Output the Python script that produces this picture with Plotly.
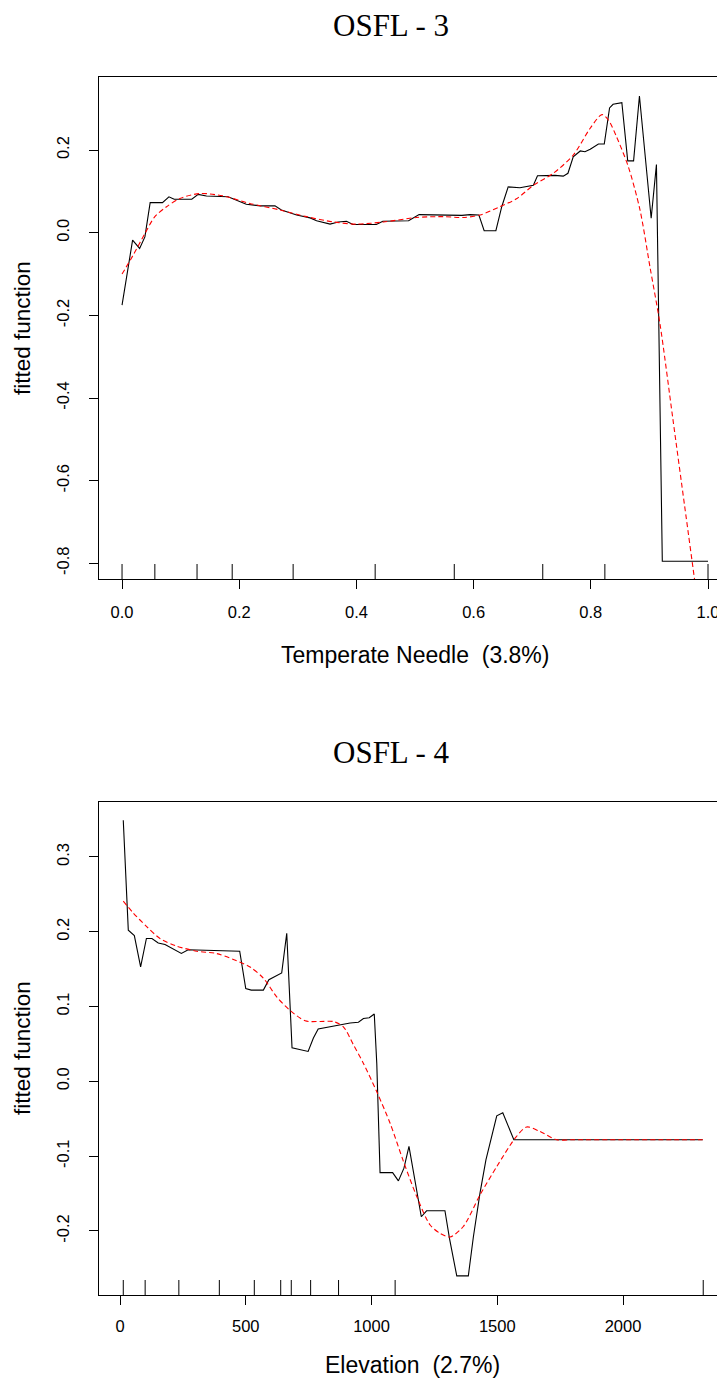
import plotly.graph_objects as go

# The page body has an 8px margin, so the figure is sized to fit inside it
OFF = 8
W, H = 725 - OFF, 1382 - OFF

# ---------------- data: OSFL - 3 (Temperate Needle) ----------------
tn_x = [0.000, 0.018, 0.030, 0.039, 0.048, 0.069, 0.080, 0.089, 0.119, 0.130,
        0.144, 0.181, 0.212, 0.236, 0.261, 0.272, 0.298, 0.321, 0.332, 0.355,
        0.369, 0.383, 0.394, 0.434, 0.445, 0.489, 0.507, 0.571, 0.580, 0.594,
        0.609, 0.618, 0.638, 0.648, 0.659, 0.679, 0.688, 0.702, 0.709, 0.739,
        0.753, 0.761, 0.770, 0.782, 0.790, 0.799, 0.813, 0.823, 0.832, 0.838,
        0.853, 0.863, 0.873, 0.883, 0.903, 0.912, 0.922, 1.000]
tn_fit = [-0.175, -0.018, -0.038, -0.010, 0.073, 0.073, 0.087, 0.081, 0.081, 0.093,
          0.089, 0.087, 0.069, 0.065, 0.065, 0.055, 0.043, 0.036, 0.029, 0.021,
          0.026, 0.028, 0.020, 0.020, 0.028, 0.029, 0.044, 0.043, 0.042, 0.044,
          0.043, 0.005, 0.005, 0.063, 0.111, 0.109, 0.111, 0.115, 0.138, 0.139,
          0.137, 0.144, 0.184, 0.198, 0.196, 0.202, 0.215, 0.215, 0.302, 0.311,
          0.315, 0.174, 0.174, 0.331, 0.035, 0.165, -0.795, -0.795]
tn_smooth_x = [0.000, 0.019, 0.039, 0.056, 0.076, 0.099, 0.133, 0.173, 0.218, 0.270,
               0.315, 0.361, 0.400, 0.446, 0.503, 0.548, 0.582, 0.611, 0.645, 0.674,
               0.702, 0.736, 0.770, 0.799, 0.819, 0.830, 0.844, 0.864, 0.884, 0.901,
               0.918, 0.940, 0.960, 0.980, 1.000]
tn_smooth = [-0.100, -0.054, -0.002, 0.039, 0.063, 0.083, 0.095, 0.089, 0.071, 0.055,
             0.039, 0.026, 0.021, 0.026, 0.037, 0.039, 0.037, 0.043, 0.063, 0.083,
             0.115, 0.144, 0.188, 0.253, 0.286, 0.273, 0.232, 0.160, 0.055, -0.083,
             -0.220, -0.450, -0.660, -0.870, -1.080]
tn_rug = [0.0, 0.056, 0.128, 0.188, 0.292, 0.432, 0.567, 0.718, 0.824, 1.0]
tn_xticks = [0.0, 0.2, 0.4, 0.6, 0.8, 1.0]
tn_xlabels = ["0.0", "0.2", "0.4", "0.6", "0.8", "1.0"]
tn_yticks = [-0.8, -0.6, -0.4, -0.2, 0.0, 0.2]
tn_ylabels = ["-0.8", "-0.6", "-0.4", "-0.2", "0.0", "0.2"]

# ---------------- data: OSFL - 4 (Elevation) ----------------
el_x = [13, 24, 33, 57, 82, 105, 127, 152, 179, 244,
        271, 476, 500, 522, 570, 592, 643, 663, 684, 748,
        769, 788, 835, 875, 915, 948, 968, 991, 1011, 1021,
        1034, 1084, 1107, 1129, 1149, 1198, 1219, 1292, 1310, 1339,
        1385, 1405, 1431, 1455, 1498, 1522, 1566, 2317]
el_fit = [0.349, 0.274, 0.202, 0.195, 0.153, 0.191, 0.191, 0.185, 0.183, 0.171,
          0.176, 0.174, 0.124, 0.122, 0.122, 0.136, 0.145, 0.198, 0.045, 0.040,
          0.058, 0.070, 0.073, 0.075, 0.078, 0.079, 0.084, 0.085, 0.090, 0.024,
          -0.122, -0.122, -0.133, -0.116, -0.087, -0.181, -0.173, -0.173, -0.210, -0.260,
          -0.260, -0.208, -0.150, -0.105, -0.046, -0.042, -0.078, -0.078]
el_smooth_x = [13, 53, 106, 159, 224, 305, 383, 451, 517, 570,
               623, 676, 736, 795, 848, 888, 928, 968, 1021, 1074,
               1127, 1180, 1233, 1272, 1312, 1365, 1431, 1498, 1571, 1617,
               1670, 1736, 1800, 2000, 2200, 2317]
el_smooth = [0.241, 0.225, 0.207, 0.191, 0.181, 0.174, 0.171, 0.163, 0.153, 0.138,
             0.113, 0.095, 0.081, 0.080, 0.080, 0.073, 0.049, 0.024, -0.014, -0.056,
             -0.107, -0.154, -0.192, -0.203, -0.208, -0.194, -0.152, -0.114, -0.076, -0.061,
             -0.067, -0.078, -0.078, -0.078, -0.078, -0.078]
el_rug = [13, 100, 234, 395, 534, 639, 681, 758, 869, 1094, 2319]
el_xticks = [0, 500, 1000, 1500, 2000]
el_xlabels = ["0", "500", "1000", "1500", "2000"]
el_yticks = [-0.2, -0.1, 0.0, 0.1, 0.2, 0.3]
el_ylabels = ["-0.2", "-0.1", "0.0", "0.1", "0.2", "0.3"]


# ---------------- layout geometry (window pixels -> paper) ----------------
def px_x(p):
    return (p - OFF) / W


def px_y(p):
    return 1 - (p - OFF) / H


SANS = "Liberation Sans, Arial, sans-serif"
SERIF = "Liberation Serif, Times New Roman, serif"

fig = go.Figure()

fig.add_trace(go.Scatter(x=tn_x, y=tn_fit, mode="lines", xaxis="x", yaxis="y",
                         line=dict(color="black", width=1.1), showlegend=False))
fig.add_trace(go.Scatter(x=tn_smooth_x, y=tn_smooth, mode="lines", xaxis="x", yaxis="y",
                         line=dict(color="#ff0000", width=1.1, dash="5px,3px", shape="spline",
                                   smoothing=0.8),
                         showlegend=False))
fig.add_trace(go.Scatter(x=el_x, y=el_fit, mode="lines", xaxis="x2", yaxis="y2",
                         line=dict(color="black", width=1.1), showlegend=False))
fig.add_trace(go.Scatter(x=el_smooth_x, y=el_smooth, mode="lines", xaxis="x2", yaxis="y2",
                         line=dict(color="#ff0000", width=1.1, dash="5px,3px", shape="spline",
                                   smoothing=0.8),
                         showlegend=False))

# rug ticks along the bottom axis
shapes = []
for v in tn_rug:
    shapes.append(dict(type="line", xref="x", yref="y domain", x0=v, x1=v, y0=0, y1=15 / 502,
                       line=dict(color="black", width=1)))
for v in el_rug:
    shapes.append(dict(type="line", xref="x2", yref="y2 domain", x0=v, x1=v, y0=0, y1=15 / 493,
                       line=dict(color="black", width=1)))

axis_common = dict(showgrid=False, zeroline=False, showline=True, linecolor="black",
                   linewidth=1, ticks="outside", ticklen=9, tickcolor="black", tickwidth=1,
                   tickfont=dict(family=SANS, size=16.5, color="black"))

fig.update_layout(
    width=W, height=H, margin=dict(l=0, r=0, t=0, b=0),
    paper_bgcolor="white", plot_bgcolor="white",
    xaxis=dict(domain=[px_x(98.6), 1.0], range=[-0.04, (725 - 122) / 586], anchor="y",
               tickvals=tn_xticks, ticktext=tn_xlabels,
               mirror=True, ticklabelstandoff=9, **axis_common),
    yaxis=dict(domain=[px_y(579), px_y(77)], range=[-0.838, 0.377], anchor="x",
               tickvals=tn_yticks, ticktext=tn_ylabels,
               tickangle=-90, ticklabelstandoff=13, **axis_common),
    xaxis2=dict(domain=[px_x(99), px_x(724)], range=[-83.5, -83.5 + 625 / 0.2515], anchor="y2",
                tickvals=el_xticks, ticktext=el_xlabels,
                mirror=True, ticklabelstandoff=7, **axis_common),
    yaxis2=dict(domain=[px_y(1295), px_y(802)], range=[-0.2856, 0.3735], anchor="x2",
                tickvals=el_yticks, ticktext=el_ylabels,
                tickangle=-90, ticklabelstandoff=13, mirror=True, **axis_common),
    shapes=shapes,
)

ann = [
    dict(text="OSFL - 3", x=px_x(391), y=px_y(25.5), font=dict(family=SERIF, size=31, color="black")),
    dict(text="Temperate Needle \u00a0(3.8%)", x=px_x(415), y=px_y(655),
         font=dict(family=SANS, size=23, color="black")),
    dict(text="fitted function", x=px_x(22), y=px_y(328), textangle=-90,
         font=dict(family=SANS, size=22.5, color="black")),
    dict(text="OSFL - 4", x=px_x(391), y=px_y(752), font=dict(family=SERIF, size=31, color="black")),
    dict(text="Elevation \u00a0(2.7%)", x=px_x(412), y=px_y(1365),
         font=dict(family=SANS, size=23, color="black")),
    dict(text="fitted function", x=px_x(22), y=px_y(1048), textangle=-90,
         font=dict(family=SANS, size=22.5, color="black")),
]
for a in ann:
    a.update(xref="paper", yref="paper", showarrow=False, xanchor="center", yanchor="middle")
    fig.add_annotation(**a)

fig.write_html("out.html")
